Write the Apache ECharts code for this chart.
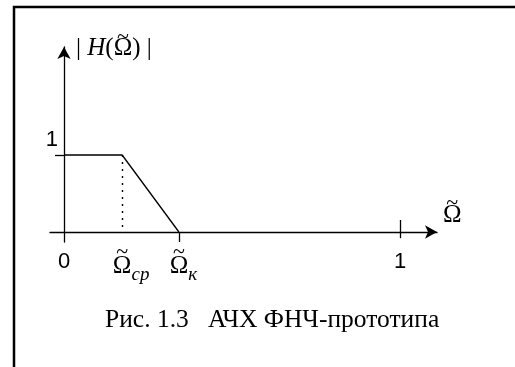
<!DOCTYPE html>
<html>
<head>
<meta charset="utf-8">
<script src="https://cdn.jsdelivr.net/npm/echarts@6/dist/echarts.min.js"></script>
<style>
  html, body { margin: 0; padding: 0; background: #fff; }
  #chart { width: 515px; height: 367px; }
</style>
</head>
<body>
<div id="chart"></div>
<script>
// Normalised frequency points of the low-pass prototype response
const cutoffFreq = 0.173;   // Ω̃ср, edge of the passband
const stopFreq = 0.342;     // Ω̃к, start of the stopband
const responseFreq = [0, cutoffFreq, stopFreq];
const responseGain = [1, 1, 0];

// Tick positions on the frequency axis and their symbol subscripts
const xTickValues = [0, cutoffFreq, stopFreq, 1];
const xTickSymbols = ['0', 'Ω', 'Ω', '1'];
const xTickSubscripts = ['', 'ср', 'к', ''];
const yTickValues = [1];
const yTickLabels = ['1'];

const caption = 'Рис. 1.3   АЧХ ФНЧ-прототипа';

const serif = 'Liberation Serif';
const sans = 'Liberation Sans';
const ink = '#000';
const mathSize = 25;
const subSize = 19;
const titleSize = 25;
const subDrop = 12;   // how far subscripts sit below the Ω

// text widths, used to sit the tilde accent over Ω
const measureCtx = document.createElement('canvas').getContext('2d');
function textWidth(text, size, italic) {
  measureCtx.font = (italic ? 'italic ' : '') + size + 'px "' + serif + '"';
  return measureCtx.measureText(text).width;
}

function tickLabel(v) {
  const i = xTickValues.indexOf(v);
  const sub = xTickSubscripts[i];
  if (!sub) {
    return '{t| }\n{n|' + xTickSymbols[i] + '}';
  }
  // pad the Ω on the left by the subscript width so the accent and Ω sit over the tick
  const pad = Math.round(textWidth(sub, subSize, true));
  return '{t|~}\n{o' + pad + '|' + xTickSymbols[i] + '}{s|' + sub + '}';
}

const xLabelRich = {
  t: { fontFamily: serif, fontSize: 22, lineHeight: 10, color: ink },
  n: { fontFamily: sans, fontSize: 22, lineHeight: 22, color: ink, padding: [0, 0, 13, 0] },
  s: { fontFamily: serif, fontStyle: 'italic', fontSize: subSize, lineHeight: 24, color: ink, padding: [subDrop, 0, 0, 0] }
};
xTickSubscripts.forEach(sub => {
  if (!sub) return;
  const pad = Math.round(textWidth(sub, subSize, true));
  xLabelRich['o' + pad] = { fontFamily: serif, fontSize: mathSize, lineHeight: 24, color: ink, padding: [0, 0, 5, pad] };
});

// |H(Ω̃)| with the accent on its own short line above Ω
const barL = '| ', barR = ' |';
const accentPad = textWidth(barL, titleSize) + textWidth('H', titleSize, true) + textWidth('(', titleSize)
  + (textWidth('Ω', titleSize) - textWidth('~', 22)) / 2;
const yAxisName = '{ta|~}\n{r|' + barL + '}{i|H}{r|(Ω)' + barR + '}';
const xAxisName = '{ta0|~}\n{r2|Ω}';

const chart = echarts.init(document.getElementById('chart'), null, { renderer: 'canvas' });

chart.setOption({
  animation: false,
  backgroundColor: '#fff',
  title: {
    text: caption,
    left: 100,
    top: 302,
    textStyle: { fontFamily: serif, fontSize: 25.5, fontWeight: 'normal', color: ink }
  },
  graphic: [{
    type: 'rect',
    shape: { x: 14, y: 7, width: 600, height: 400 },
    style: { fill: 'none', stroke: ink, lineWidth: 2.5 },
    silent: true
  }],
  grid: { left: 50, right: 78, top: 47, bottom: 125 },
  xAxis: {
    type: 'value',
    min: -0.04167,
    max: 1.1101,
    splitLine: { show: false },
    axisLine: {
      onZero: true,
      symbol: ['none', 'arrow'],
      symbolSize: [10, 12],
      lineStyle: { color: ink, width: 1.3 }
    },
    axisTick: { customValues: [stopFreq], length: 10, lineStyle: { color: ink, width: 1.3 } },
    axisLabel: {
      customValues: xTickValues,
      margin: 5,
      color: ink,
      formatter: tickLabel,
      rich: xLabelRich
    },
    name: xAxisName,
    nameLocation: 'end',
    nameGap: 6,
    nameTextStyle: {
      color: ink, align: 'left', verticalAlign: 'bottom', padding: [0, 0, 7, 0],
      rich: {
        ta0: { fontFamily: serif, fontSize: 22, lineHeight: 4, color: ink, align: 'center' },
        r2: { fontFamily: serif, fontSize: mathSize, lineHeight: 20, color: ink }
      }
    }
  },
  yAxis: {
    type: 'value',
    min: -0.12987,
    max: 2.4026,
    splitLine: { show: false },
    axisLine: {
      onZero: true,
      symbol: ['none', 'arrow'],
      symbolSize: [10, 12],
      lineStyle: { color: ink, width: 1.3 }
    },
    axisTick: { customValues: yTickValues, length: 9, lineStyle: { color: ink, width: 1.3 } },
    axisLabel: {
      customValues: yTickValues,
      margin: -8,
      color: ink,
      fontFamily: sans,
      fontSize: 22,
      verticalAlign: 'bottom',
      padding: [0, 0, 4, 0],
      formatter: (v) => yTickLabels[yTickValues.indexOf(v)]
    },
    name: yAxisName,
    nameLocation: 'end',
    nameGap: 1,
    nameTextStyle: {
      color: ink, align: 'left', verticalAlign: 'middle', padding: [0, 0, 0, 12],
      rich: {
        ta: { fontFamily: serif, fontSize: 22, lineHeight: 4, color: ink, padding: [0, 0, 0, Math.round(accentPad)] },
        r: { fontFamily: serif, fontSize: titleSize, lineHeight: 18, color: ink },
        i: { fontFamily: serif, fontStyle: 'italic', fontSize: titleSize, lineHeight: 18, color: ink }
      }
    }
  },
  series: [
    {
      type: 'line',
      data: responseFreq.map((f, i) => [f, responseGain[i]]),
      symbol: 'none',
      lineStyle: { color: ink, width: 1.3 },
      silent: true,
      markLine: {
        silent: true,
        symbol: ['none', 'none'],
        label: { show: false },
        data: [
          // dotted drop from the passband edge to the axis
          [{ coord: [cutoffFreq, 1], lineStyle: { type: [2, 5], color: ink, width: 1.4 } },
           { coord: [cutoffFreq, 0] }],
          // tick crossing the axis at Ω̃ = 1
          [{ coord: [1, -0.08], lineStyle: { type: 'solid', color: ink, width: 1.3 } },
           { coord: [1, 0.156] }]
        ]
      }
    }
  ]
});
</script>
</body>
</html>
